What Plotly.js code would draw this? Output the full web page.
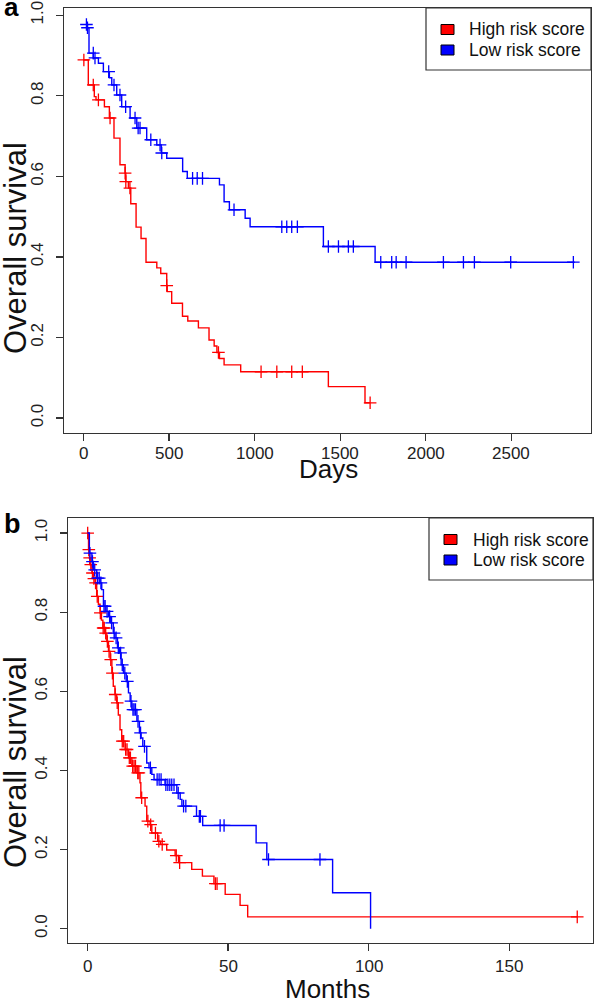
<!DOCTYPE html>
<html>
<head>
<meta charset="utf-8">
<script src="https://cdn.plot.ly/plotly-3.0.1.min.js"></script>
<style>html,body{margin:0;padding:0;background:#fff;}#chart{width:597px;height:1000px;}</style>
</head>
<body>
<div id="chart"></div>
<script>
// ---------- Panel a (Days) ----------
const aHighT = [0, 29, 64, 74, 123, 152, 179, 214, 244, 248, 263, 277, 308, 337, 366, 429, 452, 487, 490, 516, 579, 610, 672, 734, 764, 780, 795, 822, 919, 1431, 1645, 1675];
const aHighS = [0.889, 0.827, 0.798, 0.790, 0.773, 0.745, 0.695, 0.629, 0.608, 0.587, 0.571, 0.532, 0.474, 0.446, 0.387, 0.373, 0.359, 0.329, 0.314, 0.285, 0.253, 0.241, 0.224, 0.194, 0.179, 0.163, 0.148, 0.132, 0.115, 0.078, 0.038, 0.038];
const aHighCensT = [3, 58, 88, 156, 244, 248, 272, 487, 789, 1038, 1130, 1217, 1279, 1675];
const aHighCensS = [0.889, 0.827, 0.790, 0.745, 0.608, 0.587, 0.571, 0.329, 0.163, 0.115, 0.115, 0.115, 0.115, 0.038];

const aLowT = [18, 24, 33, 58, 88, 117, 152, 166, 195, 224, 273, 312, 370, 429, 455, 487, 580, 607, 795, 822, 853, 945, 974, 1402, 1704, 2870];
const aLowS = [0.977, 0.969, 0.906, 0.894, 0.881, 0.860, 0.845, 0.827, 0.802, 0.773, 0.745, 0.720, 0.691, 0.678, 0.658, 0.645, 0.612, 0.595, 0.579, 0.537, 0.517, 0.496, 0.475, 0.426, 0.387, 0.387];
const aLowCensT = [18, 24, 58, 68, 148, 179, 214, 247, 302, 320, 331, 394, 448, 458, 638, 665, 696, 880, 1159, 1188, 1217, 1250, 1431, 1490, 1548, 1577, 1737, 1801, 1827, 1885, 2103, 2220, 2284, 2496, 2862];
const aLowCensS = [0.977, 0.969, 0.906, 0.894, 0.860, 0.827, 0.802, 0.773, 0.745, 0.720, 0.720, 0.691, 0.678, 0.658, 0.595, 0.595, 0.595, 0.517, 0.475, 0.475, 0.475, 0.475, 0.426, 0.426, 0.426, 0.426, 0.387, 0.387, 0.387, 0.387, 0.387, 0.387, 0.387, 0.387, 0.387];

// ---------- Panel b (Months) ----------
const bHighT = [0, 0.4, 0.7, 1.0, 1.6, 2.2, 2.7, 3.3, 3.9, 4.5, 5.0, 5.5, 6.3, 6.9, 7.5, 8.1, 8.7, 9.2, 9.8, 10.4, 11.0, 11.6, 12.2, 13.4, 14.6, 15.8, 17.6, 18.7, 19.0, 20.5, 21.1, 22.3, 22.9, 25.0, 26.0, 28.2, 31.2, 32.4, 37.1, 40.9, 45.0, 49.0, 54.3, 57.0, 174.2];
const bHighS = [1.0, 0.958, 0.937, 0.920, 0.899, 0.885, 0.874, 0.840, 0.820, 0.798, 0.780, 0.760, 0.747, 0.726, 0.701, 0.680, 0.646, 0.613, 0.592, 0.571, 0.540, 0.503, 0.474, 0.453, 0.432, 0.411, 0.394, 0.369, 0.331, 0.310, 0.272, 0.263, 0.242, 0.221, 0.213, 0.199, 0.185, 0.167, 0.150, 0.133, 0.114, 0.087, 0.059, 0.030, 0.030];
const bHighCensT = [0.1, 0.5, 0.8, 1.2, 1.8, 2.3, 2.9, 3.5, 4.6, 5.6, 6.0, 6.5, 7.1, 7.7, 8.3, 8.9, 9.9, 10.6, 12.4, 12.9, 13.6, 14.1, 14.9, 15.3, 16.1, 16.6, 17.1, 17.9, 18.3, 19.3, 21.5, 22.5, 24.2, 25.4, 26.6, 31.6, 32.8, 45.5, 46.1, 174.2];
const bHighCensS = [1.0, 0.958, 0.937, 0.920, 0.899, 0.885, 0.874, 0.840, 0.798, 0.760, 0.760, 0.747, 0.726, 0.701, 0.680, 0.646, 0.592, 0.571, 0.474, 0.474, 0.453, 0.453, 0.432, 0.432, 0.411, 0.411, 0.411, 0.394, 0.394, 0.331, 0.272, 0.263, 0.242, 0.221, 0.213, 0.185, 0.167, 0.114, 0.114, 0.030];

const bLowT = [0, 0.7, 1.6, 2.1, 3.3, 4.5, 5.1, 5.7, 6.6, 7.5, 8.3, 9.2, 9.8, 10.7, 11.4, 12.0, 12.8, 13.8, 14.6, 15.2, 15.8, 17.6, 18.5, 19.1, 19.7, 21.1, 21.9, 22.9, 23.7, 27.6, 31.8, 33.0, 33.6, 38.8, 41.0, 60.0, 63.8, 87.2, 100.7];
const bLowS = [1.0, 0.949, 0.928, 0.907, 0.886, 0.874, 0.857, 0.815, 0.802, 0.789, 0.773, 0.747, 0.735, 0.710, 0.697, 0.667, 0.646, 0.625, 0.596, 0.575, 0.554, 0.524, 0.495, 0.482, 0.461, 0.419, 0.407, 0.390, 0.377, 0.364, 0.343, 0.327, 0.310, 0.284, 0.261, 0.217, 0.175, 0.091, 0.0];
const bLowCensT = [0.9, 1.8, 2.6, 3.6, 4.2, 4.8, 5.9, 6.3, 7.0, 7.9, 8.6, 9.5, 10.2, 11.0, 11.8, 12.4, 13.3, 14.2, 15.5, 16.2, 16.6, 17.1, 18.0, 18.9, 20.3, 22.4, 24.8, 25.5, 26.2, 27.9, 28.6, 29.3, 30.0, 30.8, 32.3, 34.2, 35.0, 39.8, 40.2, 47.2, 48.6, 64.4, 82.7];
const bLowCensS = [0.949, 0.928, 0.907, 0.886, 0.886, 0.874, 0.815, 0.815, 0.802, 0.789, 0.773, 0.747, 0.735, 0.710, 0.697, 0.667, 0.646, 0.625, 0.575, 0.554, 0.554, 0.554, 0.524, 0.495, 0.461, 0.407, 0.377, 0.377, 0.377, 0.364, 0.364, 0.364, 0.364, 0.364, 0.343, 0.310, 0.310, 0.284, 0.284, 0.261, 0.261, 0.175, 0.175];

const seriesNames = ["High risk score", "Low risk score"];
const yTicks = [0, 0.2, 0.4, 0.6, 0.8, 1.0];
const aXTicks = [0, 500, 1000, 1500, 2000, 2500];
const bXTicks = [0, 50, 100, 150];

// ---------- styling ----------
const RED = "#ff0000", BLUE = "#0000ff";
const W = 597, H = 1000;
const FONT = "Liberation Sans, Arial, sans-serif";
const fx = x => x / W, fy = y => 1 - y / H;

function stepTrace(t, s, color, xa, ya) {
  return {x: t, y: s, xaxis: xa, yaxis: ya, type: "scatter", mode: "lines",
    line: {shape: "hv", color: color, width: 1.4}, hoverinfo: "skip", showlegend: false};
}
function censTrace(t, s, color, xa, ya) {
  return {x: t, y: s, xaxis: xa, yaxis: ya, type: "scatter", mode: "markers",
    marker: {symbol: "cross-thin", size: 9, color: color, line: {color: color, width: 1.3}},
    hoverinfo: "skip", showlegend: false};
}

const traces = [
  stepTrace(aHighT, aHighS, RED, "x", "y"),
  censTrace(aHighCensT, aHighCensS, RED, "x", "y"),
  stepTrace(aLowT, aLowS, BLUE, "x", "y"),
  censTrace(aLowCensT, aLowCensS, BLUE, "x", "y"),
  stepTrace(bHighT, bHighS, RED, "x2", "y2"),
  censTrace(bHighCensT, bHighCensS, RED, "x2", "y2"),
  stepTrace(bLowT, bLowS, BLUE, "x2", "y2"),
  censTrace(bLowCensT, bLowCensS, BLUE, "x2", "y2")
];

const axBase = {
  showline: true, mirror: true, linecolor: "#333", linewidth: 1.3,
  ticks: "outside", ticklen: 7, tickwidth: 1.2, tickcolor: "#333",
  showgrid: false, zeroline: false, fixedrange: true,
  tickfont: {family: FONT, size: 17, color: "#222"}
};

const layout = {
  width: W, height: H,
  margin: {l: 0, r: 0, t: 0, b: 0},
  paper_bgcolor: "#fff", plot_bgcolor: "#fff",
  showlegend: false,
  xaxis: Object.assign({}, axBase, {domain: [fx(64), fx(591)], range: [-113, 2965], anchor: "y",
    tickvals: aXTicks, showticklabels: false}),
  yaxis: Object.assign({}, axBase, {domain: [fy(433), fy(8)], range: [-0.037, 1.018], anchor: "x",
    tickvals: yTicks, ticktext: yTicks.map(v => v.toFixed(1)), tickangle: -90, ticklabelstandoff: 6}),
  xaxis2: Object.assign({}, axBase, {domain: [fx(68), fx(593)], range: [-6.9, 179.8], anchor: "y2",
    tickvals: bXTicks, showticklabels: false}),
  yaxis2: Object.assign({}, axBase, {domain: [fy(943), fy(518)], range: [-0.036, 1.038], anchor: "x2",
    tickvals: yTicks, ticktext: yTicks.map(v => v.toFixed(1)), tickangle: -90, ticklabelstandoff: 6}),
  shapes: [],
  annotations: []
};

function ann(text, x, y, opts) {
  return Object.assign({text: text, xref: "paper", yref: "paper", x: fx(x), y: fy(y),
    showarrow: false, xanchor: "center", yanchor: "middle",
    font: {family: FONT, size: 17, color: "#111"}}, opts || {});
}

// x tick labels placed on the axes' own scales
aXTicks.forEach(v => layout.annotations.push({text: String(v), xref: "x", yref: "paper", x: v, y: fy(453),
  showarrow: false, xanchor: "center", yanchor: "middle", font: {family: FONT, size: 17, color: "#222"}}));
bXTicks.forEach(v => layout.annotations.push({text: String(v), xref: "x2", yref: "paper", x: v, y: fy(966),
  showarrow: false, xanchor: "center", yanchor: "middle", font: {family: FONT, size: 17, color: "#222"}}));

// axis titles & panel labels
layout.annotations.push(
  ann("Overall survival", 15, 248, {textangle: -90, font: {family: FONT, size: 31, color: "#111"}}),
  ann("Days", 328, 469, {font: {family: FONT, size: 26, color: "#111"}}),
  ann("<b>a</b>", 2, 7, {xanchor: "left", font: {family: FONT, size: 26, color: "#000"}}),
  ann("Overall survival", 15, 762, {textangle: -90, font: {family: FONT, size: 31, color: "#111"}}),
  ann("Months", 327, 989, {font: {family: FONT, size: 26, color: "#111"}}),
  ann("<b>b</b>", 2, 524, {xanchor: "left", font: {family: FONT, size: 27, color: "#000"}})
);

// legends
function legend(x0, y0, x1, y1, sqx, rows, textx) {
  layout.shapes.push({type: "rect", xref: "paper", yref: "paper",
    x0: fx(x0), x1: fx(x1), y0: fy(y1), y1: fy(y0), line: {color: "#333", width: 1.2}, fillcolor: "#fff"});
  const cols = [RED, BLUE];
  rows.forEach((ry, i) => {
    layout.shapes.push({type: "rect", xref: "paper", yref: "paper",
      x0: fx(sqx), x1: fx(sqx + 13), y0: fy(ry + 5), y1: fy(ry - 5),
      line: {color: "#000", width: 1}, fillcolor: cols[i]});
    layout.annotations.push(ann(seriesNames[i], textx, ry, {xanchor: "left",
      font: {family: FONT, size: 17.5, color: "#111"}}));
  });
}
legend(426, 8, 591, 70, 441, [29.5, 50], 467);
legend(429, 518, 593, 580, 444, [539.5, 560], 471);

Plotly.newPlot("chart", traces, layout, {staticPlot: true, displayModeBar: false});
</script>
</body>
</html>
